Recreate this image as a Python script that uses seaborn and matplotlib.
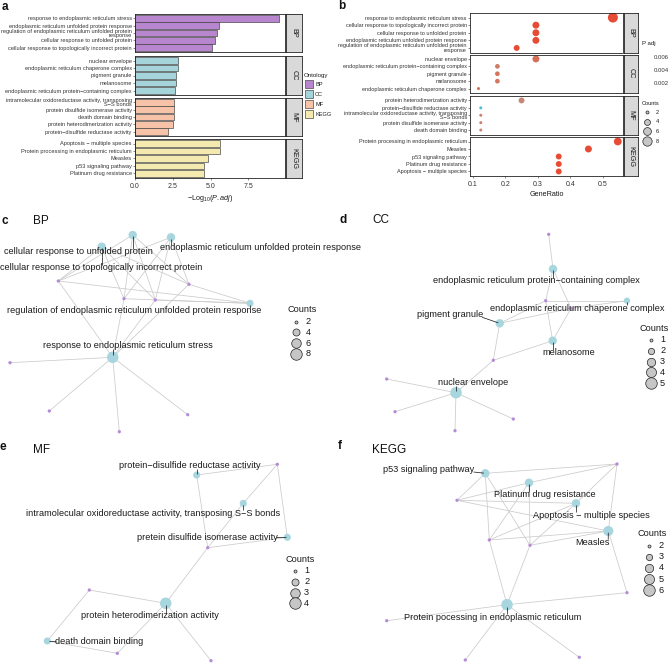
import numpy as np
import pandas as pd
import matplotlib
matplotlib.use("Agg")
import matplotlib.pyplot as plt
import seaborn as sns
from matplotlib.collections import LineCollection
from matplotlib.colors import LinearSegmentedColormap, Normalize

sns.set_theme(style="white")
plt.rcParams["font.family"] = ["Liberation Sans", "DejaVu Sans"]
plt.rcParams["mathtext.fontset"] = "custom"
plt.rcParams["mathtext.rm"] = "Liberation Sans"
plt.rcParams["mathtext.it"] = "Liberation Sans:italic"

# ------------------------------------------------------------------ data: panel a
ontologies = ["BP", "CC", "MF", "KEGG"]
bp_terms_a = ["response to endoplasmic reticulum stress",
              "endoplasmic reticulum unfolded protein response",
              "regulation of endoplasmic reticulum unfolded protein\nresponse",
              "cellular response to unfolded protein",
              "cellular response to topologically incorrect protein"]
bp_logp_a = [9.54, 5.57, 5.44, 5.31, 5.07]
cc_terms_a = ["nuclear envelope",
              "endoplasmic reticulum chaperone complex",
              "pigment granule",
              "melanosome",
              "endoplasmic reticulum protein\u2212containing complex"]
cc_logp_a = [2.82, 2.82, 2.73, 2.73, 2.62]
mf_terms_a = ["intramolecular oxidoreductase activity, transposing\nS\u2212S bonds",
              "protein disulfide isomerase activity",
              "death domain binding",
              "protein heterodimerization activity",
              "protein\u2212disulfide reductase activity"]
mf_logp_a = [2.58, 2.58, 2.56, 2.49, 2.16]
kegg_terms_a = ["Apoptosis \u2212 multiple species",
                "Protein processing in endoplasmic reticulum",
                "Measles",
                "p53 signaling pathway",
                "Platinum drug resistance"]
kegg_logp_a = [5.62, 5.64, 4.84, 4.58, 4.58]

# ------------------------------------------------------------------ data: panel b
bp_terms_b = ["response to endoplasmic reticulum stress",
              "cellular response to topologically incorrect protein",
              "cellular response to unfolded protein",
              "endoplasmic reticulum unfolded protein response",
              "regulation of endoplasmic reticulum unfolded protein\nresponse"]
bp_ratio_b = [0.530, 0.294, 0.294, 0.294, 0.235]
bp_count_b = [9, 5, 5, 5, 4]
bp_padj_b = [2.9e-10, 8.5e-6, 4.9e-6, 2.7e-6, 3.6e-6]
cc_terms_b = ["nuclear envelope",
              "endoplasmic reticulum protein\u2212containing complex",
              "pigment granule",
              "melanosome",
              "endoplasmic reticulum chaperone complex"]
cc_ratio_b = [0.294, 0.176, 0.176, 0.176, 0.118]
cc_count_b = [5, 3, 3, 3, 2]
cc_padj_b = [0.0015, 0.0024, 0.0019, 0.0019, 0.0015]
mf_terms_b = ["protein heterodimerization activity",
              "protein\u2212disulfide reductase activity",
              "intramolecular oxidoreductase activity, transposing\nS\u2212S bonds",
              "protein disulfide isomerase activity",
              "death domain binding"]
mf_ratio_b = [0.25, 0.125, 0.125, 0.125, 0.125]
mf_count_b = [4, 2, 2, 2, 2]
mf_padj_b = [0.0032, 0.0069, 0.0026, 0.0026, 0.0028]
kegg_terms_b = ["Protein processing in endoplasmic reticulum",
                "Measles",
                "p53 signaling pathway",
                "Platinum drug resistance",
                "Apoptosis \u2212 multiple species"]
kegg_ratio_b = [0.545, 0.455, 0.364, 0.364, 0.364]
kegg_count_b = [6, 5, 4, 4, 4]
kegg_padj_b = [2.3e-6, 1.4e-5, 2.6e-5, 2.6e-5, 2.4e-6]
padj_ticks = [0.002, 0.004, 0.006]
count_breaks_b = [2, 4, 6, 8]

# ------------------------------------------------------------------ data: networks (layout units)
c_terms = ["cellular response to topologically incorrect protein",
           "cellular response to unfolded protein",
           "endoplasmic reticulum unfolded protein response",
           "regulation of endoplasmic reticulum unfolded protein response",
           "response to endoplasmic reticulum stress"]
c_count = [5, 5, 5, 4, 9]
c_term_x = [101.7, 132.7, 171.0, 250.0, 112.7]
c_term_y = [21.7, 10.0, 12.3, 78.3, 132.3]
c_label_x = [101.5, 78.0, 261.0, 134.0, 127.7]
c_label_y = [43.0, 26.7, 22.7, 86.0, 121.0]
c_gene_x = [58.3, 189.0, 124.0, 155.3, 10.0, 49.3, 119.3, 187.7]
c_gene_y = [56.0, 59.3, 73.7, 75.0, 137.7, 186.0, 206.7, 189.7]
c_links = [[0, 1, 2, 3], [0, 1, 2, 3], [0, 1, 2, 3], [0, 1, 2, 3], [0, 1, 2, 3, 4, 5, 6, 7]]
c_breaks = [2, 4, 6, 8]

d_terms = ["endoplasmic reticulum protein\u2212containing complex",
           "endoplasmic reticulum chaperone complex",
           "pigment granule",
           "melanosome",
           "nuclear envelope"]
d_count = [3, 2, 3, 3, 5]
d_term_x = [218.0, 292.0, 164.7, 217.7, 121.0]
d_term_y = [44.0, 75.7, 98.3, 115.7, 167.7]
d_label_x = [201.0, 242.0, 115.0, 233.8, 137.7]
d_label_y = [56.0, 83.3, 89.3, 127.7, 157.7]
d_gene_x = [213.7, 210.7, 236.0, 158.3, 51.7, 60.0, 120.0, 178.3]
d_gene_y = [9.3, 75.7, 83.3, 135.3, 154.0, 186.7, 205.7, 194.0]
d_links = [[0, 1, 2], [1, 2], [1, 2, 3], [1, 2, 3], [3, 4, 5, 6, 7]]
d_breaks = [1, 2, 3, 4, 5]

e_terms = ["protein\u2212disulfide reductase activity",
           "intramolecular oxidoreductase activity, transposing S\u2212S bonds",
           "pretein disulfide isomerase activity",
           "protein heterodimerization activity",
           "death domain binding"]
e_count = [2, 2, 2, 4, 2]
e_term_x = [196.7, 243.3, 287.3, 165.7, 47.3]
e_term_y = [30.0, 58.3, 92.3, 158.3, 196.0]
e_label_x = [190.0, 153.0, 207.0, 149.5, 99.5]
e_label_y = [20.7, 68.3, 92.7, 170.7, 196.0]
e_gene_x = [277.3, 207.7, 89.3, 117.3, 211.0]
e_gene_y = [19.3, 102.7, 145.0, 208.3, 215.7]
e_links = [[0, 1], [0, 1], [0, 1], [1, 2, 3, 4], [2, 3]]
e_breaks = [1, 2, 3, 4]

f_terms = ["p53 signaling pathway",
           "Platinum drug resistance",
           "Apoptosis \u2212 multiple species",
           "Measles",
           "Protein pocessing in endoplasmic reticulum"]
f_count = [4, 4, 4, 5, 6]
f_term_x = [150.3, 194.0, 241.0, 273.3, 172.0]
f_term_y = [28.3, 37.7, 58.3, 86.0, 159.7]
f_label_x = [94.0, 210.0, 256.0, 257.0, 157.5]
f_label_y = [24.0, 49.7, 70.0, 97.7, 172.0]
f_gene_x = [282.0, 122.0, 154.3, 195.0, 292.0, 51.7, 130.3, 244.3]
f_gene_y = [19.0, 55.3, 95.0, 100.3, 147.7, 175.7, 215.0, 212.3]
f_links = [[0, 1, 2, 3], [0, 1, 2, 3], [0, 1, 2, 3], [0, 1, 2, 3, 4], [2, 3, 4, 5, 6, 7]]
f_breaks = [2, 3, 4, 5, 6]

# ------------------------------------------------------------------ style
ONT_COLORS = {"BP": "#B886CF", "CC": "#A5D4DB", "MF": "#F6C3A8", "KEGG": "#F4EAB0"}
TERM_COL = "#A7D6DE"
GENE_COL = "#B58BD6"
EDGE_COL = "#CBCBCB"
TXT = "#333333"
padj_cmap = LinearSegmentedColormap.from_list(
    "padj", ["#E64B35", "#D3745C", "#C4897D", "#A0A5AC", "#4DBBD5"])
padj_norm = Normalize(0, 0.0069)

W, H = 669, 663
fig = plt.figure(figsize=(W / 100, H / 100), dpi=100)


def add_ax(x0, y0, x1, y1, **kw):
    return fig.add_axes([x0 / W, 1 - y1 / H, (x1 - x0) / W, (y1 - y0) / H], **kw)


def pt2(d_px):
    return (d_px * 0.72) ** 2


def style_panel(ax, ysize=4.1):
    for s in ax.spines.values():
        s.set_visible(True)
        s.set_color("#222222")
        s.set_linewidth(0.6)
    ax.tick_params(axis="y", length=1.5, width=0.4, color="#333333", pad=0.8,
                   labelsize=ysize, labelcolor=TXT, left=True)
    ax.tick_params(axis="x", length=1.5, width=0.4, color="#333333", pad=2.2,
                   labelsize=5, labelcolor=TXT, bottom=True)
    ax.set_xlabel("")
    ax.set_ylabel("")
    ax.grid(False)
    for t in ax.get_yticklabels():
        t.set_linespacing(0.85)


def strip(label, x0, y0, x1, y1):
    sax = add_ax(x0, y0, x1, y1)
    sax.set_facecolor("#D9D9D9")
    sax.set_xticks([])
    sax.set_yticks([])
    for s in sax.spines.values():
        s.set_visible(True)
        s.set_color("#222222")
        s.set_linewidth(0.6)
    sax.text(0.5, 0.5, label, rotation=-90, ha="center", va="center",
             fontsize=5.2, color="#1A1A1A", transform=sax.transAxes)


# overlay axis in pixel units for legends / letters
lax = add_ax(0, 0, W, H, zorder=10)
lax.set_xlim(0, W)
lax.set_ylim(H, 0)
lax.axis("off")
lax.patch.set_alpha(0)

# ------------------------------------------------------------------ panel a
a_sets = [("BP", bp_terms_a, bp_logp_a), ("CC", cc_terms_a, cc_logp_a),
          ("MF", mf_terms_a, mf_logp_a), ("KEGG", kegg_terms_a, kegg_logp_a)]
a_rows = [(14, 52), (56, 95), (98, 136), (139, 178)]
for i, ((ont, terms, vals), (y0, y1)) in enumerate(zip(a_sets, a_rows)):
    ax = add_ax(135, y0, 285, y1)
    df = pd.DataFrame({"term": terms, "value": vals})
    sns.barplot(data=df, x="value", y="term", orient="h", color=ONT_COLORS[ont],
                saturation=1, width=0.9, edgecolor="#3A3A3A", linewidth=0.45, ax=ax)
    ax.set_xlim(0, 9.92)
    ax.set_ylim(4.6, -0.6)
    ax.set_xticks([0, 2.5, 5, 7.5])
    style_panel(ax)
    if i < 3:
        ax.tick_params(axis="x", length=0, labelbottom=False)
    else:
        ax.set_xticklabels(["0.0", "2.5", "5.0", "7.5"])
        ax.set_xlabel(r"$-$Log$_{10}$($\mathit{P.adj}$)", fontsize=5.2,
                      color="#1A1A1A", labelpad=2)
    strip(ont, 286, y0, 302, y1)

# ontology legend
lax.text(303.5, 76, "Ontology", fontsize=4.4, ha="left", va="center", color="#1A1A1A")
for k, ont in enumerate(ontologies):
    yy = 84 + 10 * k
    lax.add_patch(plt.Rectangle((305, yy - 4), 8, 8, facecolor=ONT_COLORS[ont],
                                edgecolor="#3A3A3A", linewidth=0.45))
    lax.text(315, yy, ont, fontsize=4.1, ha="left", va="center", color="#1A1A1A")

# ------------------------------------------------------------------ panel b
b_sets = [("BP", bp_terms_b, bp_ratio_b, bp_count_b, bp_padj_b),
          ("CC", cc_terms_b, cc_ratio_b, cc_count_b, cc_padj_b),
          ("MF", mf_terms_b, mf_ratio_b, mf_count_b, mf_padj_b),
          ("KEGG", kegg_terms_b, kegg_ratio_b, kegg_count_b, kegg_padj_b)]
b_rows = [(13, 52.5), (54.5, 93), (96, 134.5), (137, 176)]
B_SMIN, B_SMAX = pt2(3.0), pt2(10.0)
for i, ((ont, terms, ratio, cnt, padj), (y0, y1)) in enumerate(zip(b_sets, b_rows)):
    ax = add_ax(470, y0, 623, y1)
    df = pd.DataFrame({"term": terms, "GeneRatio": ratio, "Count": cnt, "p.adjust": padj})
    sns.scatterplot(data=df, x="GeneRatio", y="term", hue="p.adjust", palette=padj_cmap,
                    hue_norm=padj_norm, size="Count", sizes=(B_SMIN, B_SMAX),
                    size_norm=(2, 9), edgecolor="none", linewidth=0, legend=False, ax=ax)
    ax.set_xlim(0.092, 0.561)
    ax.set_ylim(4.6, -0.6)
    ax.set_xticks([0.1, 0.2, 0.3, 0.4, 0.5])
    style_panel(ax, ysize=4.0)
    if i < 3:
        ax.tick_params(axis="x", length=0, labelbottom=False)
    else:
        ax.set_xticklabels(["0.1", "0.2", "0.3", "0.4", "0.5"])
        ax.set_xlabel("GeneRatio", fontsize=5.2, color="#1A1A1A", labelpad=2)
    strip(ont, 624, y0, 638, y1)

# colour bar (gradient is not visible in the reference)
cax = add_ax(641, 51, 648, 96)
sm = matplotlib.cm.ScalarMappable(norm=padj_norm, cmap=padj_cmap)
cb = fig.colorbar(sm, cax=cax)
cb.set_ticks(padj_ticks)
cb.set_ticklabels(["%.3f" % t for t in padj_ticks])
cb.outline.set_visible(False)
cb.solids.set_alpha(0)
cax.tick_params(length=0, labelsize=4.3, pad=4, labelcolor=TXT)
lax.text(641.5, 43, "P adj", fontsize=4.3, ha="left", va="center", color="#1A1A1A")


def size_legend(breaks, dmin, dmax, title, tx, ty, cx, txt_x, y_first, step, fs):
    lax.text(tx, ty, title, fontsize=fs, ha="left", va="center", color="#1A1A1A")
    bmin, bmax = breaks[0], breaks[-1]
    for k, b in enumerate(breaks):
        d = np.sqrt(dmin ** 2 + (b - bmin) / (bmax - bmin) * (dmax ** 2 - dmin ** 2))
        y = y_first + k * step
        lax.scatter([cx], [y], s=pt2(d), facecolor="#C6C6C6", edgecolor="#222222",
                    linewidths=0.5, zorder=11)
        lax.text(txt_x, y, str(b), fontsize=fs, ha="left", va="center", color="#1A1A1A")


# counts legend of b: map through the same area scale (2..9 -> 3..10 px)
b_leg_d = [np.sqrt(9 + (b - 2) / 7 * (100 - 9)) for b in count_breaks_b]
lax.text(642, 103.5, "Counts", fontsize=4.1, ha="left", va="center", color="#1A1A1A")
for k, (b, d) in enumerate(zip(count_breaks_b, b_leg_d)):
    y = 112 + 9.7 * k
    lax.scatter([647.3], [y], s=pt2(d), facecolor="#C6C6C6", edgecolor="#222222",
                linewidths=0.5, zorder=11)
    lax.text(656, y, str(b), fontsize=4.1, ha="left", va="center", color="#1A1A1A")

# ------------------------------------------------------------------ networks
NET_FS = 6.6
D_MIN, D_MAX = 3.0, 11.5
net_records = []


def network(box, terms, counts, tx, ty, lx, ly, gx, gy, links, breaks):
    x0, y0, x1, y1 = box
    ax = add_ax(x0, y0, x1, y1)
    segs = [[(tx[i], ty[i]), (gx[j], gy[j])] for i, js in enumerate(links) for j in js]
    ax.add_collection(LineCollection(segs, colors=EDGE_COL, linewidths=0.55, zorder=1))
    sns.scatterplot(x=gx, y=gy, color=GENE_COL, s=pt2(3.3), edgecolor="none",
                    linewidth=0, legend=False, ax=ax, zorder=2)
    sns.scatterplot(x=tx, y=ty, size=counts, sizes=(pt2(D_MIN), pt2(D_MAX)),
                    size_norm=(breaks[0], breaks[-1]), color=TERM_COL, edgecolor="none",
                    linewidth=0, legend=False, ax=ax, zorder=3)
    ax.set_xlim(0, x1 - x0)
    ax.set_ylim(y1 - y0, 0)
    ax.axis("off")
    ax.patch.set_alpha(0)
    texts = []
    for t, x, y in zip(terms, lx, ly):
        texts.append(ax.text(x, y, t, ha="center", va="center", fontsize=NET_FS,
                             color="#1A1A1A", zorder=5, clip_on=False))
    diam = [np.sqrt(D_MIN ** 2 + (c - breaks[0]) / (breaks[-1] - breaks[0]) *
                    (D_MAX ** 2 - D_MIN ** 2)) for c in counts]
    net_records.append((ax, texts, tx, ty, diam))
    return ax


network((0, 225, 335, 440), c_terms, c_count, c_term_x, c_term_y, c_label_x, c_label_y,
        c_gene_x, c_gene_y, c_links, c_breaks)
network((335, 225, 669, 440), d_terms, d_count, d_term_x, d_term_y, d_label_x, d_label_y,
        d_gene_x, d_gene_y, d_links, d_breaks)
network((0, 445, 335, 663), e_terms, e_count, e_term_x, e_term_y, e_label_x, e_label_y,
        e_gene_x, e_gene_y, e_links, e_breaks)
network((335, 445, 669, 663), f_terms, f_count, f_term_x, f_term_y, f_label_x, f_label_y,
        f_gene_x, f_gene_y, f_links, f_breaks)

size_legend(c_breaks, D_MIN, D_MAX, "Counts", 287, 310, 296, 305.5, 321.7, 10.7, NET_FS)
size_legend(d_breaks, D_MIN, D_MAX, "Counts", 640, 328.3, 650.7, 660, 340, 10.8, NET_FS)
size_legend(e_breaks, D_MIN, D_MAX, "Counts", 285.5, 559.3, 294.7, 304, 570.7, 10.9, NET_FS)
size_legend(f_breaks, D_MIN, D_MAX, "Counts", 637, 533.3, 649, 658.5, 545.7, 11.1, NET_FS)

# panel letters and titles
for letter, x, y in [("a", 2, 7), ("b", 338, 6), ("c", 1, 221), ("d", 339, 220),
                     ("e", 0, 447), ("f", 338, 446)]:
    lax.text(x, y, letter, fontsize=8.5, fontweight="bold", ha="left", va="center",
             color="#111111")
for title, x, y in [("BP", 33, 221), ("CC", 372, 220), ("MF", 33, 450), ("KEGG", 372, 450)]:
    lax.text(x, y, title, fontsize=8.5, ha="left", va="center", color="#111111")

# leader segments (label box -> node), as ggrepel draws them
fig.canvas.draw()
renderer = fig.canvas.get_renderer()
for ax, texts, tx, ty, diam in net_records:
    inv = ax.transData.inverted()
    for t, x, y, d in zip(texts, tx, ty, diam):
        bb = t.get_window_extent(renderer)
        nx, ny = ax.transData.transform((x, y))
        cx = min(max(nx, bb.x0 + 1), bb.x1 - 1)
        cy = min(max(ny, bb.y0 + 1.5), bb.y1 - 1.5)
        dist = np.hypot(cx - nx, cy - ny)
        r = d / 2.0
        if dist > r + 0.8:
            ux, uy = (nx - cx) / dist, (ny - cy) / dist
            ex, ey = nx - ux * r * 0.35, ny - uy * r * 0.35
            p0 = inv.transform((cx, cy))
            p1 = inv.transform((ex, ey))
            ax.plot([p0[0], p1[0]], [p0[1], p1[1]], color="#111111", lw=0.5,
                    zorder=4, solid_capstyle="butt")

fig.savefig("out.png", dpi=100)
